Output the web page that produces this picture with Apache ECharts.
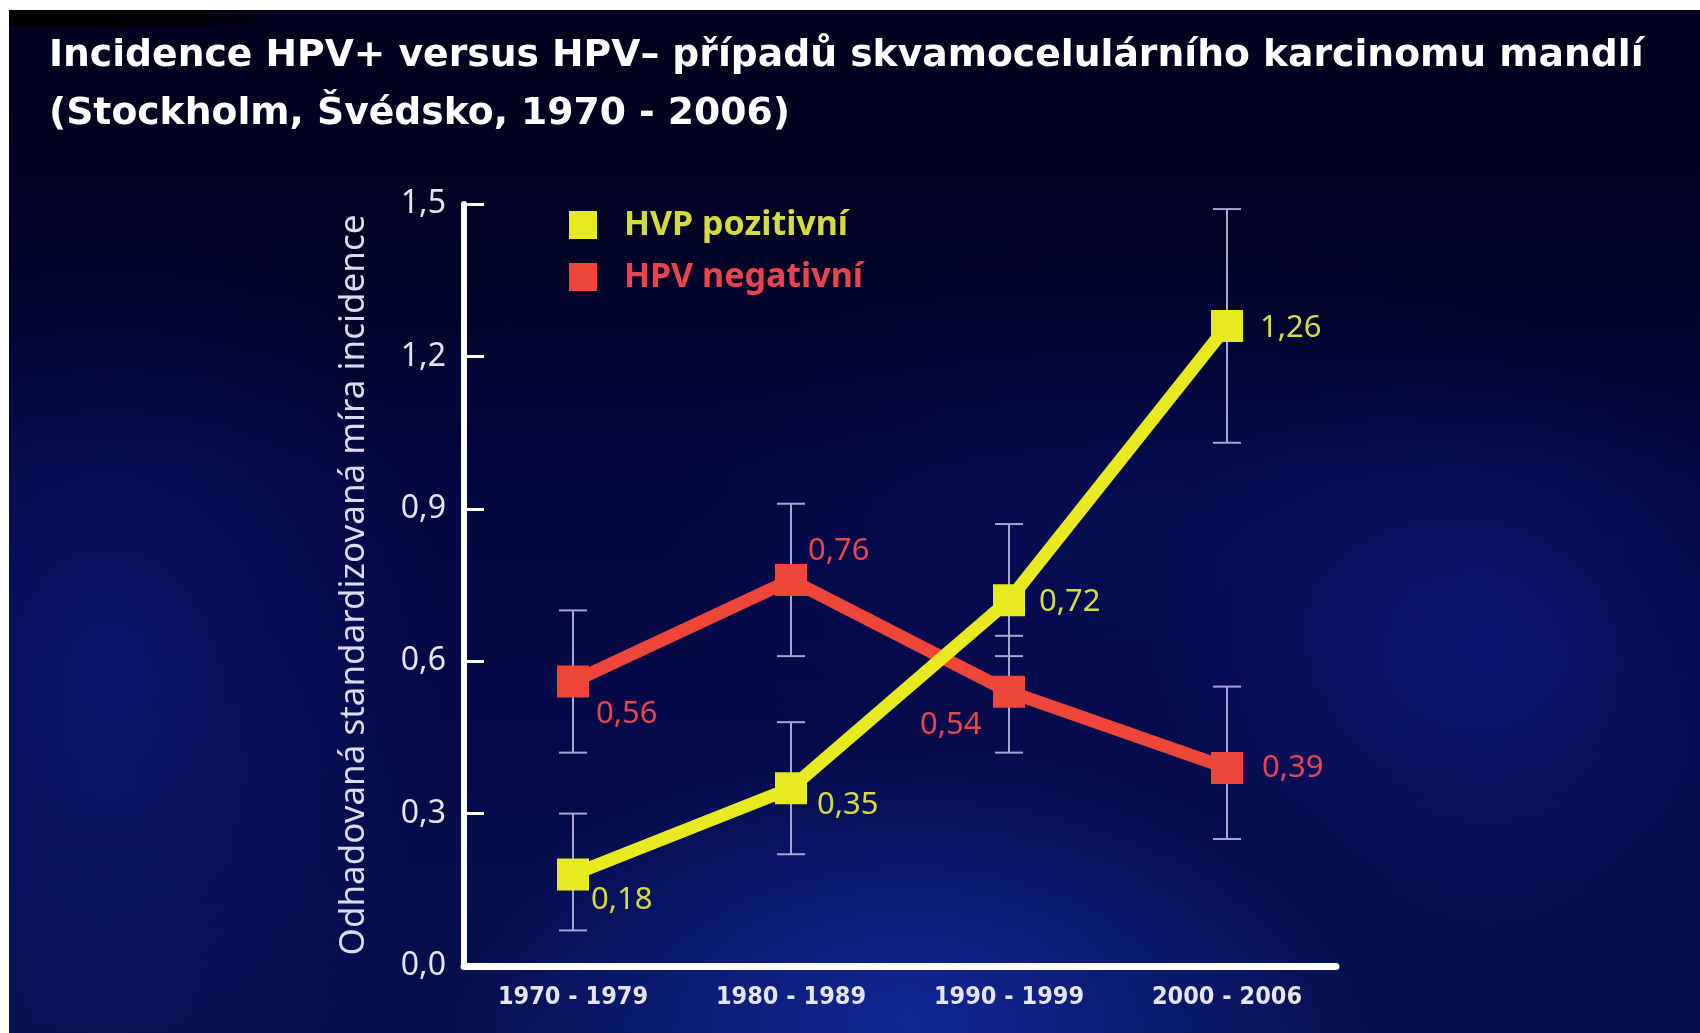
<!DOCTYPE html>
<html>
<head>
<meta charset="utf-8">
<script src="https://cdn.jsdelivr.net/npm/echarts@6/dist/echarts.min.js"></script>
<style>
  html, body { margin: 0; padding: 0; width: 1700px; height: 1033px; background: #ffffff; overflow: hidden; }
  #bg {
    position: absolute; left: 9px; top: 10px; right: 0; bottom: 0;
    background:
      linear-gradient(180deg, rgba(1,2,28,0.95) 0%, rgba(1,2,30,0.6) 25%, rgba(1,2,30,0) 45%),
      radial-gradient(ellipse 460px 280px at 900px 1010px, rgba(22,48,180,0.7), rgba(22,48,180,0) 100%),
      radial-gradient(ellipse 340px 480px at 100px 660px, rgba(16,34,150,0.45), rgba(16,34,150,0) 100%),
      radial-gradient(ellipse 340px 320px at 1480px 640px, rgba(16,32,150,0.5), rgba(16,32,150,0) 100%),
      radial-gradient(ellipse 500px 300px at 1150px 520px, rgba(10,22,110,0.4), rgba(10,22,110,0) 100%),
      linear-gradient(180deg, #02042a 0%, #040845 60%, #06104f 100%);
  }
  #smudge { position: absolute; left: 9px; top: 10px; width: 270px; height: 16px;
    background: linear-gradient(90deg, rgba(0,0,0,0.95), rgba(0,0,0,0.7) 70%, rgba(0,0,0,0)); border-radius: 0 0 40px 0; }
  #chart { position: absolute; left: 0; top: 0; width: 1700px; height: 1033px; }
</style>
</head>
<body>
<div id="bg"></div>
<div id="smudge"></div>
<div id="chart"></div>
<script>
const titleLines = ['Incidence HPV+ versus HPV\u2013 případů skvamocelulárního karcinomu mandlí', '(Stockholm, Švédsko, 1970 - 2006)'];
const yAxisName = 'Odhadovaná standardizovaná míra incidence';
const categories = ['1970 - 1979', '1980 - 1989', '1990 - 1999', '2000 - 2006'];
const seriesNames = ['HVP pozitivní', 'HPV negativní'];
const hpvPos = [0.18, 0.35, 0.72, 1.26];
const hpvNeg = [0.56, 0.76, 0.54, 0.39];
const hpvPosLow = [0.07, 0.22, 0.61, 1.03];
const hpvPosHigh = [0.30, 0.48, 0.87, 1.49];
const hpvNegLow = [0.42, 0.61, 0.42, 0.25];
const hpvNegHigh = [0.70, 0.91, 0.65, 0.55];
const yMin = 0, yMax = 1.5, yStep = 0.3;

const YELLOW = '#e9e91f', RED = '#f0463a';
const YLAB = '#d6dc3e', RLAB = '#ea4450';
const fmt = v => v.toFixed(2).replace('.', ',');

const posOffsets = [[-3, 26], [5, 17], [9, 2], [12, 2]];
const negOffsets = [[2, 33], [-4, -29], [-110, 33], [14, 0]];

function errData(low, high) { return low.map((l, i) => [i, l, high[i]]); }
function errRender(params, api) {
  const i = api.value(0);
  const lo = api.coord([i, api.value(1)]);
  const hi = api.coord([i, api.value(2)]);
  const hw = 14;
  const st = { stroke: '#a4a6d6', lineWidth: 2 };
  return { type: 'group', children: [
    { type: 'line', shape: { x1: lo[0], y1: lo[1], x2: hi[0], y2: hi[1] }, style: st },
    { type: 'line', shape: { x1: lo[0] - hw, y1: lo[1], x2: lo[0] + hw, y2: lo[1] }, style: st },
    { type: 'line', shape: { x1: hi[0] - hw, y1: hi[1], x2: hi[0] + hw, y2: hi[1] }, style: st }
  ]};
}
function lineData(vals, offs, color) {
  return vals.map((v, i) => ({ value: v, label: { offset: offs[i], color: color } }));
}

const numFont = "'Noto Sans', 'Open Sans', sans-serif";
const chart = echarts.init(document.getElementById('chart'), null, { renderer: 'canvas' });
chart.setOption({
  backgroundColor: 'transparent',
  animation: false,
  title: {
    text: titleLines.join('\n'),
    left: 44, top: 22,
    textStyle: { color: '#ffffff', fontFamily: "'DejaVu Sans', sans-serif", fontWeight: 'bold', fontSize: 37.7, lineHeight: 58 }
  },
  legend: {
    orient: 'vertical', left: 564, top: 203,
    itemWidth: 28, itemHeight: 28, itemGap: 18, icon: 'rect',
    textStyle: { fontFamily: numFont, fontWeight: 'bold', fontSize: 34, padding: [0, 0, 0, 22] },
    data: [
      { name: seriesNames[0], textStyle: { color: YLAB } },
      { name: seriesNames[1], textStyle: { color: RLAB } }
    ]
  },
  grid: { left: 464, right: 1700 - 1336, top: 204, bottom: 1033 - 966, containLabel: false },
  xAxis: {
    type: 'category', data: categories, boundaryGap: true,
    axisLine: { lineStyle: { color: '#ffffff', width: 7 } },
    axisTick: { inside: true, length: 20, lineStyle: { color: '#ffffff', width: 5 } },
    axisLabel: { interval: 0, color: '#e4e4f2', fontFamily: "'Liberation Sans Narrow', 'DejaVu Sans Condensed', 'Noto Sans', sans-serif", fontWeight: 600, fontSize: 25, margin: 19 },
    splitLine: { show: false }
  },
  yAxis: {
    type: 'value', min: yMin, max: yMax, interval: yStep,
    name: yAxisName, nameLocation: 'middle', nameGap: 92,
    nameTextStyle: { color: '#dcdcf0', fontFamily: numFont, fontSize: 35 },
    axisLine: { show: true, lineStyle: { color: '#ffffff', width: 6 } },
    axisTick: { show: true, inside: true, length: 20, lineStyle: { color: '#ffffff', width: 3 } },
    axisLabel: { color: '#e4e4f2', fontFamily: numFont, fontSize: 32, margin: 18, formatter: v => v.toFixed(1).replace('.', ',') },
    splitLine: { show: false }
  },
  series: [
    { type: 'custom', name: 'errPos', renderItem: errRender, data: errData(hpvPosLow, hpvPosHigh), z: 1, silent: true },
    { type: 'custom', name: 'errNeg', renderItem: errRender, data: errData(hpvNegLow, hpvNegHigh), z: 1, silent: true },
    {
      type: 'line', name: seriesNames[1], data: lineData(hpvNeg, negOffsets, RLAB), z: 3,
      symbol: 'rect', symbolSize: 32, itemStyle: { color: RED },
      lineStyle: { color: RED, width: 13 },
      label: { show: true, position: 'right', distance: 5, fontFamily: numFont, fontSize: 31, formatter: p => fmt(p.value) }
    },
    {
      type: 'line', name: seriesNames[0], data: lineData(hpvPos, posOffsets, YLAB), z: 4,
      symbol: 'rect', symbolSize: 32, itemStyle: { color: YELLOW },
      lineStyle: { color: YELLOW, width: 13 },
      label: { show: true, position: 'right', distance: 5, fontFamily: numFont, fontSize: 31, formatter: p => fmt(p.value) }
    }
  ]
});
</script>
</body>
</html>
